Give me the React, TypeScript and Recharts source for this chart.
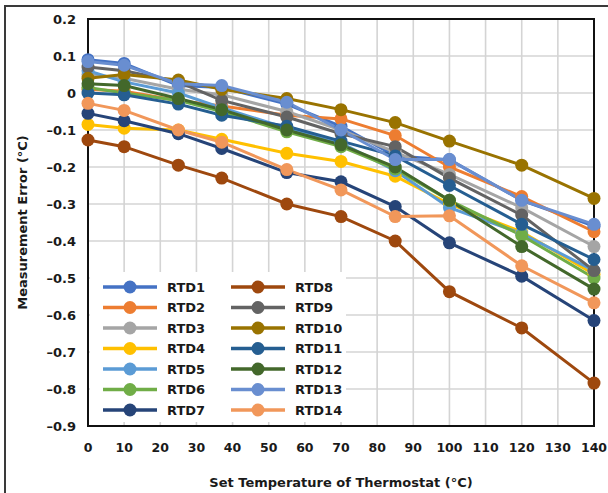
import React from 'react';
import { LineChart, Line, XAxis, YAxis, CartesianGrid, Legend, ReferenceArea } from 'recharts';

const temps = [0, 10, 25, 37, 55, 70, 85, 100, 120, 140];

const rtd1 = [0.09, 0.08, 0.02, 0.015, -0.03, -0.09, -0.17, -0.18, -0.29, -0.36];
const rtd2 = [0.01, 0.005, -0.02, -0.035, -0.06, -0.07, -0.115, -0.2, -0.28, -0.375];
const rtd3 = [0.05, 0.04, 0.01, -0.005, -0.05, -0.1, -0.16, -0.22, -0.31, -0.415];
const rtd4 = [-0.085, -0.095, -0.1, -0.125, -0.163, -0.185, -0.225, -0.3, -0.375, -0.49];
const rtd5 = [0.06, 0.03, 0.0, -0.04, -0.095, -0.135, -0.21, -0.31, -0.38, -0.48];
const rtd6 = [0.015, 0.0, -0.02, -0.05, -0.105, -0.145, -0.205, -0.29, -0.385, -0.5];
const rtd7 = [-0.055, -0.075, -0.11, -0.15, -0.215, -0.24, -0.307, -0.405, -0.495, -0.615];
const rtd8 = [-0.127, -0.145, -0.195, -0.23, -0.3, -0.334, -0.4, -0.537, -0.635, -0.784];
const rtd9 = [0.07, 0.06, 0.03, -0.02, -0.065, -0.11, -0.145, -0.23, -0.33, -0.48];
const rtd10 = [0.04, 0.05, 0.035, 0.01, -0.015, -0.045, -0.08, -0.13, -0.195, -0.285];
const rtd11 = [0.0, -0.005, -0.03, -0.06, -0.09, -0.13, -0.17, -0.25, -0.355, -0.45];
const rtd12 = [0.025, 0.02, -0.015, -0.045, -0.1, -0.14, -0.2, -0.29, -0.415, -0.53];
const rtd13 = [0.085, 0.075, 0.025, 0.02, -0.025, -0.1, -0.18, -0.18, -0.29, -0.355];
const rtd14 = [-0.028, -0.047, -0.1, -0.133, -0.207, -0.262, -0.334, -0.332, -0.467, -0.567];

const seriesNames = ['RTD1', 'RTD2', 'RTD3', 'RTD4', 'RTD5', 'RTD6', 'RTD7', 'RTD8', 'RTD9', 'RTD10', 'RTD11', 'RTD12', 'RTD13', 'RTD14'];
const seriesValues = [rtd1, rtd2, rtd3, rtd4, rtd5, rtd6, rtd7, rtd8, rtd9, rtd10, rtd11, rtd12, rtd13, rtd14];
const seriesColors = ['#4472C4', '#ED7D31', '#A5A5A5', '#FFC000', '#5B9BD5', '#70AD47', '#264478', '#9E480E', '#636363', '#997300', '#255E91', '#43682B', '#698ED0', '#F1975A'];

const xTicks = [0, 10, 20, 30, 40, 50, 60, 70, 80, 90, 100, 110, 120, 130, 140];
const yTicks = [0.2, 0.1, 0, -0.1, -0.2, -0.3, -0.4, -0.5, -0.6, -0.7, -0.8, -0.9];

const xTitle = 'Set Temperature of Thermostat (°C)';
const yTitle = 'Measurement Error (°C)';

const data = temps.map((t, i) => {
  const row: Record<string, number> = { t };
  seriesNames.forEach((n, k) => {
    row[n] = seriesValues[k][i];
  });
  return row;
});

const FONT = '"DejaVu Sans", sans-serif';
const TXT = '#1a1a1a';

const fmtY = (v: number) => {
  if (Math.abs(v) < 1e-9) return '0';
  return (v < 0 ? '–' : '') + Math.abs(v).toFixed(1);
};

const LegendBox = () => {
  const rows = 7;
  return (
    <svg width={256} height={150} style={{ display: 'block' }}>
      <rect x={0} y={0} width={256} height={150} fill="#ffffff" />
      {seriesNames.map((n, k) => {
        const col = k < rows ? 0 : 1;
        const r = k % rows;
        const y = 15 + r * 20.5;
        const x0 = col === 0 ? 13 : 141;
        return (
          <g key={n}>
            <line x1={x0} x2={x0 + 54} y1={y} y2={y} stroke={seriesColors[k]} strokeWidth={3.5} />
            <circle cx={x0 + 27} cy={y} r={6.5} fill={seriesColors[k]} />
            <text x={x0 + 64} y={y} dominantBaseline="central" fontFamily={FONT} fontWeight={700} fontSize={13} fill={TXT}>
              {n}
            </text>
          </g>
        );
      })}
    </svg>
  );
};

export default function App() {
  return (
    <div style={{ position: 'absolute', left: 0, top: 0, width: 608, height: 493, background: '#fff', overflow: 'hidden' }}>
      <div style={{ position: 'absolute', left: 4, top: 5, width: 700, height: 600, borderLeft: '2px solid #3a3a3a', borderTop: '2px solid #3a3a3a' }} />
      <LineChart
        width={608}
        height={493}
        data={data}
        margin={{ top: 19, right: 14, left: 0, bottom: 0 }}
        style={{ position: 'absolute', left: 0, top: 0 }}
      >
        <CartesianGrid stroke="#d4d4d4" strokeWidth={1.6} horizontalValues={yTicks} verticalValues={xTicks} />
        <XAxis
          dataKey="t"
          type="number"
          domain={[0, 140]}
          ticks={xTicks}
          interval={0}
          height={67}
          axisLine={false}
          tickLine={false}
          tickSize={0}
          tickMargin={17}
          tick={{ fontFamily: FONT, fontWeight: 700, fontSize: 12.5, fill: TXT }}
          label={{ value: xTitle, position: 'insideBottom', offset: 6, style: { fontFamily: FONT, fontWeight: 700, fontSize: 13, fill: TXT } }}
        />
        <YAxis
          type="number"
          domain={[-0.9, 0.2]}
          ticks={yTicks}
          interval={0}
          width={88}
          axisLine={false}
          tickLine={false}
          tickSize={0}
          tickMargin={12}
          tickFormatter={fmtY}
          tick={{ fontFamily: FONT, fontWeight: 700, fontSize: 13, fill: TXT }}
          label={{ value: yTitle, angle: -90, position: 'insideLeft', offset: 22, style: { textAnchor: 'middle', fontFamily: FONT, fontWeight: 700, fontSize: 13, fill: TXT } }}
        />
        <ReferenceArea x1={0} x2={140} y1={-0.9} y2={0.2} fill="none" stroke="#111" strokeWidth={2} />
        <Legend
          layout="vertical"
          align="center"
          verticalAlign="middle"
          wrapperStyle={{ left: 90, top: 272, width: 256, height: 150 }}
          content={() => <LegendBox />}
        />
        {seriesNames.map((n, k) => (
          <Line
            key={n}
            dataKey={n}
            stroke={seriesColors[k]}
            strokeWidth={3}
            dot={{ r: 6.5, fill: seriesColors[k], stroke: seriesColors[k], strokeWidth: 0 }}
            activeDot={false}
            isAnimationActive={false}
          />
        ))}
      </LineChart>
    </div>
  );
}
